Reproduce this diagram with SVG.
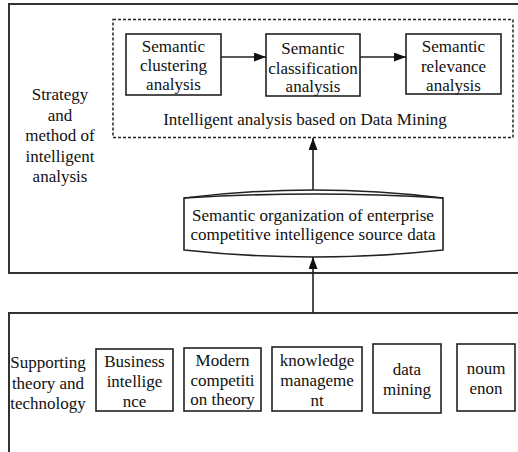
<svg xmlns="http://www.w3.org/2000/svg" width="518" height="452" viewBox="0 0 518 452">
<style>
text{font-family:"Liberation Serif","Times New Roman",serif;font-size:17px;fill:#111;text-anchor:middle}
.frame{fill:none;stroke:#333;stroke-width:2}
.box{fill:#fff;stroke:#222;stroke-width:1.6}
.dash{fill:none;stroke:#222;stroke-width:1.5;stroke-dasharray:3 2}
.conn{fill:none;stroke:#222;stroke-width:1.6}
</style>
<defs>
<marker id="ah" markerUnits="userSpaceOnUse" markerWidth="13" markerHeight="10" refX="12" refY="4.5" orient="auto">
<path d="M0,0 L12,4.5 L0,9 z" fill="#111"/>
</marker>
</defs>
<rect width="518" height="452" fill="#fff"/>
<g id="strategy-frame">
<path class="frame" d="M530,4 H9 V273 H530"/>
<text x="60" y="100">Strategy</text>
<text x="60" y="120.5">and</text>
<text x="60" y="141">method of</text>
<text x="60" y="161.5">intelligent</text>
<text x="60" y="182">analysis</text>
</g>
<g id="data-mining-group">
<rect class="dash" x="113" y="19.5" width="400" height="118"/>
<text x="305" y="125">Intelligent analysis based on Data Mining</text>
</g>
<g id="clustering">
<rect class="box" x="126" y="34" width="95" height="61"/>
<text x="173.5" y="52">Semantic</text>
<text x="173.5" y="71">clustering</text>
<text x="173.5" y="90">analysis</text>
</g>
<g id="classification">
<rect class="box" x="266" y="34" width="94" height="62"/>
<text x="313" y="54">Semantic</text>
<text x="313" y="74">classification</text>
<text x="313" y="92">analysis</text>
</g>
<g id="relevance">
<rect class="box" x="406" y="34" width="95" height="60"/>
<text x="453.5" y="52">Semantic</text>
<text x="453.5" y="72">relevance</text>
<text x="453.5" y="91">analysis</text>
</g>
<g id="semantic-organization">
<path class="box" d="M184,198 Q313,182 443,198 L443,250 Q313,264 184,250 Z"/>
<path class="conn" d="M184,198 Q313,190 443,198"/>
<text x="313" y="221">Semantic organization of enterprise</text>
<text x="313" y="240">competitive intelligence source data</text>
</g>
<g id="supporting-frame">
<path class="frame" d="M530,313 H9 V460"/>
<text x="48" y="368">Supporting</text>
<text x="48" y="389">theory and</text>
<text x="48" y="409">technology</text>
</g>
<g id="business-intelligence">
<rect class="box" x="96" y="349" width="77" height="62"/>
<text x="134.5" y="367">Business</text>
<text x="134.5" y="387">intellige</text>
<text x="134.5" y="407">nce</text>
</g>
<g id="modern-competition">
<rect class="box" x="184" y="348" width="77" height="63"/>
<text x="222.5" y="366">Modern</text>
<text x="222.5" y="386">competiti</text>
<text x="222.5" y="405">on theory</text>
</g>
<g id="knowledge-management">
<rect class="box" x="272" y="347" width="90" height="64"/>
<text x="317" y="366">knowledge</text>
<text x="317" y="386">manageme</text>
<text x="317" y="406">nt</text>
</g>
<g id="data-mining">
<rect class="box" x="373" y="344" width="68" height="69"/>
<text x="407" y="375">data</text>
<text x="407" y="395">mining</text>
</g>
<g id="noumenon">
<rect class="box" x="457" y="344" width="58" height="67"/>
<text x="486" y="374">noum</text>
<text x="486" y="394">enon</text>
</g>
<g id="connectors">
<line class="conn" x1="221" y1="57" x2="266" y2="57" marker-end="url(#ah)"/>
<line class="conn" x1="360" y1="57" x2="406" y2="57" marker-end="url(#ah)"/>
<line class="conn" x1="313" y1="190" x2="313" y2="138" marker-end="url(#ah)"/>
<line class="conn" x1="313" y1="313" x2="313" y2="257" marker-end="url(#ah)"/>
</g>
</svg>
